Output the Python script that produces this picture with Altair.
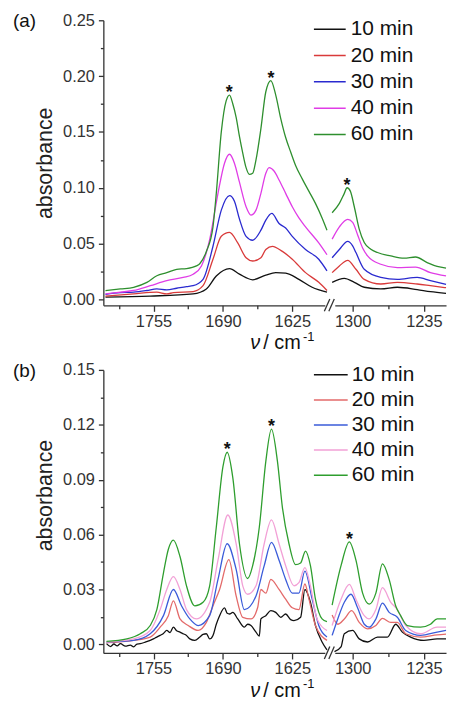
import json
import altair as alt
import pandas as pd

FONT = "Liberation Sans"
SERIES = ["10 min", "20 min", "30 min", "40 min", "60 min"]
COLORS_A = ["#111111", "#D93A3A", "#2A2ACF", "#E03CE6", "#2E8F2E"]
COLORS_B = ["#111111", "#E36A6A", "#3A5BD9", "#F2A0D6", "#2E9E2E"]

# ---------------- panel (a) ----------------
A10_NU = [1800, 1758.1, 1717.9, 1705.5, 1696.2, 1683.8, 1674.5, 1662.1, 1649.8, 1640.5, 1631.2, 1618.8, 1606.4, 1592.5,
          1318.7, 1307.6, 1298.5, 1289.4, 1274.3, 1259.2, 1241.1, 1229.0, 1214.8]
A10_AB = [0.002, 0.003, 0.005, 0.0094, 0.021, 0.0276, 0.0226, 0.0176, 0.0218, 0.024, 0.0235, 0.018, 0.0109, 0.0065,
          0.0153, 0.0188, 0.0153, 0.0109, 0.0094, 0.0109, 0.0088, 0.007, 0.0055]
A20_NU = [1800, 1773.6, 1751.9, 1742.6, 1736.4, 1717.9, 1708.6, 1699.3, 1691.5, 1683.8, 1676.1, 1668.3, 1662.1, 1654.4,
          1649.8, 1643.6, 1634.3, 1625.0, 1612.6, 1600.2, 1592.5,
          1318.7, 1312.1, 1304.5, 1297.0, 1289.4, 1274.3, 1259.2, 1241.1, 1229.0, 1214.8]
A20_AB = [0.003, 0.005, 0.0065, 0.005, 0.006, 0.007, 0.0123, 0.036, 0.0565, 0.060, 0.0506, 0.0373, 0.0344, 0.0373,
          0.0447, 0.0476, 0.043, 0.036, 0.024, 0.0153, 0.008,
          0.024, 0.030, 0.035, 0.027, 0.018, 0.0138, 0.0153, 0.0138, 0.0123, 0.0105]
A30_NU = [1800, 1786, 1773.6, 1761.2, 1751.9, 1742.6, 1733.3, 1724.1, 1717.9, 1708.6, 1699.3, 1691.5, 1683.8, 1679.2,
          1674.5, 1668.3, 1662.1, 1654.4, 1649.8, 1644.2, 1637.4, 1631.2, 1625.0, 1612.6, 1600.2, 1592.5,
          1318.7, 1312.1, 1304.5, 1300.0, 1297.0, 1289.4, 1274.3, 1259.2, 1241.1, 1229.0, 1214.8]
A30_AB = [0.0045, 0.006, 0.0065, 0.008, 0.0094, 0.0085, 0.010, 0.0115, 0.0123, 0.018, 0.0476, 0.080, 0.093, 0.088,
          0.072, 0.0565, 0.053, 0.062, 0.071, 0.077, 0.068, 0.064, 0.0565, 0.0447, 0.036, 0.0256,
          0.0373, 0.0447, 0.052, 0.048, 0.042, 0.027, 0.0197, 0.018, 0.0197, 0.0168, 0.0135]
A40_NU = [1800, 1786, 1773.6, 1758.1, 1742.6, 1727.2, 1717.9, 1710.1, 1702.4, 1694.6, 1688.5, 1683.8, 1679.2, 1674.5,
          1668.3, 1663.7, 1659.0, 1654.4, 1649.8, 1646.7, 1642.1, 1637.4, 1631.2, 1625.0, 1618.8, 1612.6, 1600.2, 1592.5,
          1318.7, 1312.1, 1304.5, 1300.0, 1295.5, 1290.9, 1286.4, 1274.3, 1259.2, 1242.6, 1229.0, 1214.8]
A40_AB = [0.005, 0.0065, 0.008, 0.0123, 0.0168, 0.0197, 0.0226, 0.030, 0.0535, 0.095, 0.122, 0.130, 0.122, 0.105,
          0.083, 0.0755, 0.080, 0.095, 0.113, 0.118, 0.115, 0.107, 0.095, 0.083, 0.073, 0.065, 0.0506, 0.040,
          0.054, 0.065, 0.0717, 0.069, 0.058, 0.046, 0.039, 0.0315, 0.0285, 0.029, 0.024, 0.021]
A60_NU = [1800, 1786, 1773.6, 1761.2, 1751.9, 1742.6, 1733.3, 1724.1, 1714.8, 1711.7, 1705.5, 1699.3, 1696.2, 1691.5,
          1686.9, 1683.8, 1680.7, 1677.6, 1674.5, 1671.4, 1668.3, 1665.2, 1662.1, 1659.0, 1654.4, 1649.8, 1645.1,
          1640.5, 1635.8, 1631.2, 1626.5, 1621.9, 1615.7, 1609.5, 1603.3, 1597.1, 1592.5,
          1318.7, 1312.1, 1307.6, 1305.1, 1302.1, 1298.5, 1294.0, 1289.4, 1283.4, 1277.3, 1265.2, 1253.1, 1242.6,
          1232.0, 1222.9, 1214.8]
A60_AB = [0.0079, 0.0094, 0.0109, 0.0153, 0.0212, 0.024, 0.027, 0.0276, 0.030, 0.032, 0.043, 0.065, 0.095, 0.150,
          0.178, 0.183, 0.175, 0.163, 0.146, 0.131, 0.118, 0.112, 0.113, 0.125, 0.153, 0.186, 0.196,
          0.183, 0.162, 0.145, 0.132, 0.12, 0.108, 0.097, 0.086, 0.073, 0.062,
          0.0776, 0.086, 0.095, 0.100, 0.097, 0.083, 0.063, 0.051, 0.045, 0.042, 0.039, 0.037, 0.038,
          0.033, 0.0295, 0.028]
STAR_A_NU = [1684, 1645, 1305.1]
STAR_A_AB = [0.183, 0.196, 0.100]

# ---------------- panel (b) ----------------
B10_NU = [1799, 1795.3, 1792.1, 1789.1, 1786, 1781.3, 1776.7, 1773.6, 1770.5, 1767.4, 1762.8, 1758.1, 1753.5, 1748.8,
          1745.7, 1742.6, 1739.5, 1736.4, 1733.3, 1730.2, 1727.2, 1724.1, 1721.0, 1716.3, 1711.7, 1708.6, 1705.5,
          1702.4, 1699.3, 1696.2, 1693.1, 1688.5, 1686.0, 1683.8, 1680.7, 1676.1, 1669.9, 1666.8, 1663.7, 1659.0,
          1655.9, 1654.4, 1649.8, 1645.1, 1640.5, 1635.8, 1631.2, 1626.5, 1623.4, 1617.2, 1613.2, 1608.0, 1603.3,
          1597.1, 1592.5,
          1316.6, 1310.6, 1307.6, 1300.0, 1294.0, 1286.4, 1277.3, 1268.3, 1260.7, 1254.7, 1247.1, 1235.0, 1222.9, 1214.8]
B10_AB = [0.0004, -0.0012, 0.0002, -0.0008, 0.0004, -0.0010, -0.0004, -0.0014, 0.0002, 0.0004, 0.0012, 0.0022, 0.0035,
          0.0049, 0.0060, 0.0076, 0.0065, 0.0094, 0.0075, 0.0067, 0.0058, 0.0049, 0.0030, 0.0022, 0.0040, 0.0055,
          0.0058, 0.0030, 0.0049, 0.011, 0.0157, 0.020, 0.017, 0.0166, 0.0175, 0.0139, 0.0094, 0.011, 0.0103, 0.0067,
          0.0045, 0.0139, 0.0157, 0.0184, 0.0175, 0.0148, 0.0166, 0.0135, 0.013, 0.0148, 0.030, 0.023, 0.0103,
          0.0013, -0.003,
          -0.004, -0.0014, 0.0058, 0.0076, 0.003, 0.0013, 0.004, 0.004, 0.011, 0.0067, 0.004, 0.0022, 0.003, 0.003]
B20_NU = [1799, 1773.6, 1758.1, 1748.8, 1741.1, 1736.4, 1730.2, 1722.5, 1713.2, 1705.5, 1699.3, 1693.1, 1684.4, 1677.6,
          1671.4, 1663.7, 1657.5, 1654.4, 1649.8, 1645.1, 1637.4, 1631.2, 1625.0, 1618.8, 1613.2, 1609.5, 1603.3, 1592.5,
          1318.7, 1313.6, 1307.6, 1300.9, 1294.0, 1286.4, 1278.8, 1272.8, 1265.2, 1259.2, 1251.6, 1238.0, 1222.9, 1214.8]
B20_AB = [0.0009, 0.0022, 0.004, 0.0094, 0.0157, 0.0238, 0.0139, 0.0103, 0.0076, 0.012, 0.021, 0.030, 0.0463, 0.0265,
          0.0148, 0.0139, 0.020, 0.030, 0.028, 0.0355, 0.030, 0.0247, 0.020, 0.019, 0.033, 0.025, 0.0103, 0.0022,
          0.016, 0.011, 0.0139, 0.0184, 0.012, 0.0085, 0.0103, 0.0142, 0.012, 0.012, 0.0058, 0.004, 0.0052, 0.0056]
B30_NU = [1799, 1773.6, 1758.1, 1745.7, 1736.4, 1728.7, 1721.0, 1713.2, 1702.4, 1694.6, 1686.0, 1677.6, 1669.9, 1659.0,
          1651.3, 1644.5, 1637.4, 1631.2, 1625.0, 1618.8, 1613.2, 1606.4, 1600.2, 1592.5,
          1318.7, 1313.6, 1307.6, 1301.5, 1295.5, 1289.4, 1284.9, 1278.8, 1272.8, 1266.7, 1259.2, 1251.6, 1238.0,
          1222.9, 1214.8]
B30_AB = [0.0013, 0.0022, 0.0058, 0.0157, 0.030, 0.021, 0.0139, 0.0103, 0.0157, 0.0355, 0.055, 0.041, 0.019, 0.0265,
          0.043, 0.0557, 0.046, 0.0355, 0.028, 0.028, 0.040, 0.0247, 0.0103, 0.004,
          0.0049, 0.0139, 0.023, 0.0274, 0.020, 0.011, 0.0094, 0.0139, 0.0225, 0.0175, 0.0148, 0.0076, 0.0049,
          0.0067, 0.0076]
B40_NU = [1799, 1773.6, 1758.1, 1748.8, 1742.6, 1736.4, 1730.2, 1724.1, 1714.8, 1702.4, 1694.6, 1685.4, 1677.6, 1671.4,
          1666.8, 1659.0, 1651.3, 1644.5, 1637.4, 1631.2, 1623.4, 1618.8, 1613.2, 1608.0, 1601.8, 1592.5,
          1318.7, 1310.6, 1303.0, 1297.0, 1289.4, 1284.9, 1278.8, 1272.8, 1265.2, 1259.2, 1251.6, 1238.0, 1222.9, 1214.8]
B40_AB = [0.0013, 0.003, 0.0076, 0.019, 0.030, 0.037, 0.030, 0.019, 0.0139, 0.023, 0.046, 0.0707, 0.055, 0.032,
          0.0274, 0.032, 0.055, 0.068, 0.055, 0.043, 0.032, 0.0337, 0.042, 0.032, 0.0139, 0.0076,
          0.0103, 0.0247, 0.0328, 0.0247, 0.0157, 0.0139, 0.019, 0.031, 0.023, 0.019, 0.0103, 0.0058, 0.0094, 0.0094]
B60_NU = [1799, 1780, 1767.4, 1758.1, 1751.9, 1745.7, 1741.1, 1736.4, 1730.2, 1724.1, 1716.3, 1708.6, 1702.4, 1696.2,
          1690.0, 1686.0, 1680.7, 1674.5, 1666.8, 1662.1, 1655.9, 1649.8, 1644.5, 1638.9, 1634.3, 1628.1, 1621.9,
          1617.2, 1612.6, 1608.0, 1603.3, 1597.1, 1592.5,
          1318.7, 1310.6, 1303.0, 1297.0, 1290.9, 1284.9, 1278.8, 1272.8, 1266.7, 1260.7, 1256.2, 1250.1, 1238.0,
          1229.0, 1222.9, 1214.8]
B60_AB = [0.0016, 0.003, 0.0058, 0.0103, 0.019, 0.039, 0.052, 0.057, 0.048, 0.032, 0.021, 0.023, 0.032, 0.064,
          0.097, 0.105, 0.091, 0.055, 0.036, 0.043, 0.064, 0.100, 0.1176, 0.100, 0.075, 0.055, 0.0436,
          0.0445, 0.051, 0.043, 0.0247, 0.0139, 0.0124,
          0.0215, 0.043, 0.056, 0.046, 0.028, 0.022, 0.028, 0.044, 0.0355, 0.021, 0.0157, 0.0103, 0.0094,
          0.011, 0.0139, 0.0139]
STAR_B_NU = [1686, 1644.5, 1303]
STAR_B_AB = [0.105, 0.1176, 0.056]

# ---------------- ticks ----------------
XL_MAJOR = [1755, 1690, 1625]
XL_ALL = [1787.5, 1755, 1722.5, 1690, 1657.5, 1625]
XR_MAJOR = [1300, 1235]
XR_ALL = [1300, 1267.5, 1235]
YA_MAJOR = [0, 0.05, 0.1, 0.15, 0.2, 0.25]
YA_ALL = [0, 0.025, 0.05, 0.075, 0.1, 0.125, 0.15, 0.175, 0.2, 0.225, 0.25]
YB_MAJOR = [0, 0.03, 0.06, 0.09, 0.12, 0.15]
YB_ALL = [0, 0.015, 0.03, 0.045, 0.06, 0.075, 0.09, 0.105, 0.12, 0.135, 0.15]

AXIS_STYLE = dict(grid=False, domainColor="#333333", domainWidth=1.3, tickColor="#333333", tickWidth=1.3,
                  labelFont=FONT, labelFontSize=16.5, labelColor="#333333", labelFlush=False, labelOverlap=False)

W_L, W_R = 223, 112


def major_test(lst):
    return "indexof(" + json.dumps(lst) + ", datum.value) >= 0"


def tick_size(lst, big, small):
    return {"condition": {"test": major_test(lst), "value": big}, "value": small}


def label_expr(lst):
    return major_test(lst) + " ? datum.label : ''"


def text_mark(txt, x, y, **kw):
    return alt.Chart(pd.DataFrame({"t": [txt]})).mark_text(font=FONT, color="#111111", **kw).encode(
        x=alt.value(x), y=alt.value(y), text="t:N")


def panel(tag, nus, abss, colors, star_nu, star_ab, ydom, y_all, y_major, H, leg_rng, leg_x, title_y):
    rows = []
    for name, nu, ab in zip(SERIES, nus, abss):
        for n, a in zip(nu, ab):
            rows.append({"series": name, "nu": n, "abs": a})
    df = pd.DataFrame(rows)
    left_df = df[df["nu"] > 1450]
    right_df = df[df["nu"] < 1450]
    stars = pd.DataFrame({"nu": star_nu, "abs": star_ab})

    color = alt.Color("series:N", scale=alt.Scale(domain=SERIES, range=colors), legend=None)
    order = alt.Order("nu:Q", sort="descending")
    yscale = alt.Scale(domain=ydom, nice=False, zero=False)
    ykw = dict(values=y_all, format=".2f", labelExpr=label_expr(y_major), tickSize=tick_size(y_major, 5, 3),
               title="absorbance", titleFont=FONT, titleFontSize=21.5, titleFontWeight="normal",
               titleColor="#222222", titlePadding=6, labelPadding=4, **AXIS_STYLE)
    if title_y is not None:
        ykw["titleY"] = title_y

    xl = alt.X("nu:Q", scale=alt.Scale(domain=[1594.5, 1802], reverse=True, nice=False, zero=False),
               axis=alt.Axis(values=XL_ALL, format="d", labelExpr=label_expr(XL_MAJOR),
                             tickSize=tick_size(XL_MAJOR, 6, 3.5), title=None, labelPadding=2, **AXIS_STYLE))
    xr = alt.X("nu:Q", scale=alt.Scale(domain=[1214.8, 1316.3], reverse=True, nice=False, zero=False),
               axis=alt.Axis(values=XR_ALL, format="d", labelExpr=label_expr(XR_MAJOR),
                             tickSize=tick_size(XR_MAJOR, 6, 3.5), title=None, labelPadding=2, **AXIS_STYLE))

    lines_l = alt.Chart(left_df).mark_line(strokeWidth=1.3, interpolate="monotone").encode(
        x=xl, y=alt.Y("abs:Q", scale=yscale, axis=alt.Axis(**ykw)), color=color, order=order)
    star_kw = dict(text="*", font=FONT, fontSize=18, fontWeight="bold", color="#111111", baseline="alphabetic", dy=3)
    stars_l = alt.Chart(stars[stars["nu"] > 1450]).mark_text(**star_kw).encode(
        x=xl, y=alt.Y("abs:Q", scale=yscale, axis=None))

    leg_df = pd.DataFrame({"series": SERIES})
    ly = alt.Y("series:N", scale=alt.Scale(type="point", domain=SERIES, range=leg_rng, padding=0), axis=None)
    leg_rules = alt.Chart(leg_df).mark_rule(strokeWidth=1.5).encode(
        x=alt.value(leg_x[0]), x2=alt.value(leg_x[1]), y=ly, color=color)
    leg_text = alt.Chart(leg_df).mark_text(align="left", baseline="middle", font=FONT, fontSize=21,
                                           color="#111111").encode(x=alt.value(leg_x[2]), y=ly, text="series:N")

    tag_m = text_mark(tag, -91, 1, align="left", baseline="middle", fontSize=19)
    nu_m = text_mark("ν", 158, H + 44, align="right", baseline="alphabetic", fontSize=20, fontStyle="italic")
    cm_m = text_mark("/ cm", 161, H + 44, align="left", baseline="alphabetic", fontSize=20)
    sup_m = text_mark("-1", 201, H + 35.5, align="left", baseline="alphabetic", fontSize=13)

    left = alt.layer(lines_l, stars_l, leg_rules, leg_text, tag_m, nu_m, cm_m, sup_m).resolve_scale(
        y="independent").properties(width=W_L, height=H)

    lines_r = alt.Chart(right_df).mark_line(strokeWidth=1.3, interpolate="monotone").encode(
        x=xr, y=alt.Y("abs:Q", scale=yscale, axis=None), color=color, order=order)
    stars_r = alt.Chart(stars[stars["nu"] < 1450]).mark_text(**star_kw).encode(
        x=xr, y=alt.Y("abs:Q", scale=yscale, axis=None))
    one = pd.DataFrame({"k": [0]})
    slash1 = alt.Chart(one).mark_rule(strokeWidth=1.3, color="#333333").encode(
        x=alt.value(-10.5), x2=alt.value(-5), y=alt.value(H + 6), y2=alt.value(H - 6.5))
    slash2 = alt.Chart(one).mark_rule(strokeWidth=1.3, color="#333333").encode(
        x=alt.value(-6), x2=alt.value(-0.5), y=alt.value(H + 6), y2=alt.value(H - 6.5))
    right = alt.layer(lines_r, stars_r, slash1, slash2).properties(width=W_R, height=H)
    return left, right


H_A, H_B = 287, 285
aL, aR = panel("(a)", [A10_NU, A20_NU, A30_NU, A40_NU, A60_NU], [A10_AB, A20_AB, A30_AB, A40_AB, A60_AB],
               COLORS_A, STAR_A_NU, STAR_A_AB, [-0.0053, 0.25], YA_ALL, YA_MAJOR, H_A,
               [9, 115], [212, 244, 249], None)
bL, bR = panel("(b)", [B10_NU, B20_NU, B30_NU, B40_NU, B60_NU], [B10_AB, B20_AB, B30_AB, B40_AB, B60_AB],
               COLORS_B, STAR_B_NU, STAR_B_AB, [-0.0047, 0.15], YB_ALL, YB_MAJOR, H_B,
               [5, 106], [212, 246, 250], 126)

chart = alt.ConcatChart(
    concat=[aL, aR, bL, bR], columns=2, spacing={"row": 65, "column": 10}, bounds="flush", align="each"
).resolve_scale(
    x="independent", y="independent", color="independent"
).properties(
    padding={"left": 5, "top": 2, "right": 0, "bottom": 0}
).configure_view(strokeWidth=0)

chart.save("out.html", embed_options={"renderer": "svg", "actions": False})
